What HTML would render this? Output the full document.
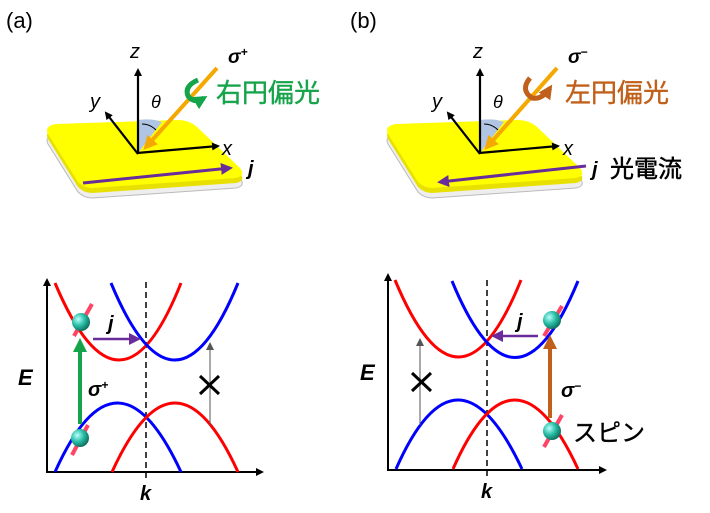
<!DOCTYPE html>
<html><head><meta charset="utf-8"><style>
body{margin:0;background:#fff}
svg text{font-family:"Liberation Sans","Noto Sans CJK JP",sans-serif}
</style></head><body>
<svg width="710" height="508" viewBox="0 0 710 508" xmlns="http://www.w3.org/2000/svg">
<defs>
<marker id="ak" markerWidth="8" markerHeight="8" refX="6" refY="4" orient="auto" markerUnits="userSpaceOnUse"><path d="M0,0 L8,4 L0,8 z" fill="#000"/></marker>
<marker id="ag" markerWidth="8" markerHeight="8" refX="6" refY="4" orient="auto" markerUnits="userSpaceOnUse"><path d="M0,0 L8,4 L0,8 z" fill="#555"/></marker>
<marker id="ap" markerWidth="12" markerHeight="12" refX="9" refY="6" orient="auto" markerUnits="userSpaceOnUse"><path d="M0,0 L12,6 L0,12 z" fill="#6a2c9a"/></marker>
<marker id="ao" markerWidth="14" markerHeight="14" refX="10" refY="7" orient="auto" markerUnits="userSpaceOnUse"><path d="M0,0 L14,7 L0,14 z" fill="#f5a800"/></marker>
<marker id="agr" markerWidth="16" markerHeight="14" refX="10" refY="7" orient="auto" markerUnits="userSpaceOnUse"><path d="M0,0 L14,7 L0,14 z" fill="#16a44a"/></marker>
<marker id="abr" markerWidth="16" markerHeight="14" refX="10" refY="7" orient="auto" markerUnits="userSpaceOnUse"><path d="M0,0 L14,7 L0,14 z" fill="#c0601a"/></marker>
<radialGradient id="ball" cx="0.35" cy="0.35" r="0.7"><stop offset="0" stop-color="#bff"/><stop offset="0.5" stop-color="#2cc0a8"/><stop offset="1" stop-color="#0a6a5a"/></radialGradient>
</defs>

<text x="6" y="28" font-size="22">(a)</text>
<text x="350" y="28" font-size="22">(b)</text>

<!-- Plate A -->
<g>
<g transform="translate(0,6)">
<path d="M48,138 Q44,130 56,128 L178,124 Q188,124 196,130 L240,172 Q246,180 236,182 L92,192 Q84,192 78,186 Z" fill="#eee" stroke="#bbb"/>
<path d="M48,133 Q44,125 56,123 L178,119 Q188,119 196,125 L240,167 Q246,175 236,177 L92,187 Q84,187 78,181 Z" fill="#e8e000"/>
<path d="M48,128 Q44,120 56,118 L178,114 Q188,114 196,120 L240,162 Q246,170 236,172 L92,182 Q84,182 78,176 Z" fill="#ffff00"/>
</g>
<path d="M138,153 L138,120 Q152,118 162,122 Z" fill="#b0c4e4"/>
<path d="M83,183 L230,168" stroke="#6a2c9a" stroke-width="3" marker-end="url(#ap)"/>
<line x1="138" y1="154" x2="138" y2="70" stroke="#000" stroke-width="2.2" marker-end="url(#ak)"/>
<line x1="138" y1="154" x2="106" y2="113" stroke="#000" stroke-width="2.2" marker-end="url(#ak)"/>
<line x1="137" y1="153" x2="218" y2="146" stroke="#000" stroke-width="2.2" marker-end="url(#ak)"/>
<path d="M142,124 Q150,124 156,130" stroke="#000" fill="none" stroke-width="1"/>
<line x1="217" y1="68" x2="146" y2="147" stroke="#f5a800" stroke-width="4" marker-end="url(#ao)"/>
<text x="130" y="58" font-size="20" font-style="italic">z</text>
<text x="90" y="108" font-size="20" font-style="italic">y</text>
<text x="222" y="155" font-size="20" font-style="italic">x</text>
<text x="151" y="108" font-size="18" font-style="italic">θ</text>
<text x="248" y="175" font-size="20" font-style="italic" font-weight="bold">j</text>
<text x="228" y="63" font-size="19" font-weight="bold" font-style="italic">σ<tspan font-size="12" dy="-7">+</tspan></text>
<path d="M198,80 Q184,86 188,96 Q194,104 204,98" stroke="#16a44a" stroke-width="5" fill="none" marker-end="url(#agr)"/>
<text x="216" y="102" font-size="26" fill="#16a44a" stroke="#16a44a" stroke-width="0.4">右円偏光</text>
</g>

<!-- Plate B -->
<g>
<g transform="translate(0,6)">
<path d="M388,138 Q384,130 396,128 L518,124 Q528,124 536,130 L580,172 Q586,180 576,182 L432,192 Q424,192 418,186 Z" fill="#eee" stroke="#bbb"/>
<path d="M388,133 Q384,125 396,123 L518,119 Q528,119 536,125 L580,167 Q586,175 576,177 L432,187 Q424,187 418,181 Z" fill="#e8e000"/>
<path d="M388,128 Q384,120 396,118 L518,114 Q528,114 536,120 L580,162 Q586,170 576,172 L432,182 Q424,182 418,176 Z" fill="#ffff00"/>
</g>
<path d="M480,153 L480,120 Q494,118 504,122 Z" fill="#b0c4e4"/>
<path d="M586,166 L440,182" stroke="#6a2c9a" stroke-width="3" marker-end="url(#ap)"/>
<line x1="480" y1="154" x2="480" y2="70" stroke="#000" stroke-width="2.2" marker-end="url(#ak)"/>
<line x1="480" y1="154" x2="448" y2="113" stroke="#000" stroke-width="2.2" marker-end="url(#ak)"/>
<line x1="479" y1="153" x2="558" y2="146" stroke="#000" stroke-width="2.2" marker-end="url(#ak)"/>
<path d="M484,124 Q492,124 498,130" stroke="#000" fill="none" stroke-width="1"/>
<line x1="557" y1="68" x2="487" y2="147" stroke="#f5a800" stroke-width="4" marker-end="url(#ao)"/>
<text x="473" y="58" font-size="20" font-style="italic">z</text>
<text x="432" y="108" font-size="20" font-style="italic">y</text>
<text x="563" y="155" font-size="20" font-style="italic">x</text>
<text x="493" y="108" font-size="18" font-style="italic">θ</text>
<text x="592" y="176" font-size="20" font-style="italic" font-weight="bold">j</text>
<text x="610" y="177" font-size="24" stroke="#000" stroke-width="0.5">光電流</text>
<text x="568" y="63" font-size="19" font-weight="bold" font-style="italic">σ<tspan font-size="12" dy="-7">−</tspan></text>
<path d="M530,78 Q520,90 532,98 Q542,100 550,88" stroke="#c0601a" stroke-width="5" fill="none" marker-end="url(#abr)"/>
<text x="565" y="102" font-size="26" fill="#c0601a" stroke="#c0601a" stroke-width="0.4">左円偏光</text>
</g>

<!-- Graph A -->
<g fill="none">
<line x1="47" y1="472" x2="47" y2="280" stroke="#000" stroke-width="2" marker-end="url(#ak)"/>
<line x1="46" y1="472" x2="262" y2="472" stroke="#000" stroke-width="2" marker-end="url(#ak)"/>
<line x1="146" y1="282" x2="146" y2="478" stroke="#000" stroke-width="1.5" stroke-dasharray="6,4"/>
<path d="M55,283 Q120,437 181,283" stroke="#f00" stroke-width="3"/>
<path d="M111,283 Q175,437 238,283" stroke="#00f" stroke-width="3"/>
<path d="M55,472 Q117,334 181,472" stroke="#00f" stroke-width="3"/>
<path d="M112,472 Q175,334 238,472" stroke="#f00" stroke-width="3"/>
<line x1="80" y1="424" x2="80" y2="342" stroke="#16a44a" stroke-width="4" marker-end="url(#agr)"/>
<line x1="93" y1="339" x2="138" y2="339" stroke="#6a2c9a" stroke-width="2.5" marker-end="url(#ap)"/>
<line x1="210" y1="425" x2="210" y2="344" stroke="#555" stroke-width="1" marker-end="url(#ag)"/>
<path d="M200,376 L219,394 M219,376 L200,394" stroke="#000" stroke-width="3"/>
<line x1="74" y1="336" x2="92" y2="304" stroke="#f46" stroke-width="4"/>
<line x1="72" y1="455" x2="88" y2="425" stroke="#f46" stroke-width="4"/>
<circle cx="81" cy="322" r="9" fill="url(#ball)"/>
<circle cx="80" cy="438" r="9" fill="url(#ball)"/>
</g>
<text x="18" y="385" font-size="22" font-weight="bold" font-style="italic">E</text>
<text x="140" y="500" font-size="20" font-weight="bold" font-style="italic">k</text>
<text x="108" y="330" font-size="20" font-weight="bold" font-style="italic">j</text>
<text x="88" y="396" font-size="20" font-weight="bold" font-style="italic">σ<tspan font-size="12" dy="-7">+</tspan></text>

<!-- Graph B -->
<g fill="none">
<line x1="388" y1="470" x2="388" y2="275" stroke="#000" stroke-width="2" marker-end="url(#ak)"/>
<line x1="387" y1="470" x2="605" y2="470" stroke="#000" stroke-width="2" marker-end="url(#ak)"/>
<line x1="487" y1="280" x2="487" y2="476" stroke="#000" stroke-width="1.5" stroke-dasharray="6,4"/>
<path d="M395,280 Q459,434 521,280" stroke="#f00" stroke-width="3"/>
<path d="M452,281 Q515,434 578,281" stroke="#00f" stroke-width="3"/>
<path d="M396,469 Q457,331 522,469" stroke="#00f" stroke-width="3"/>
<path d="M453,469 Q514,331 578,469" stroke="#f00" stroke-width="3"/>
<line x1="550" y1="418" x2="550" y2="339" stroke="#c0601a" stroke-width="4" marker-end="url(#abr)"/>
<line x1="538" y1="336" x2="494" y2="336" stroke="#6a2c9a" stroke-width="2.5" marker-end="url(#ap)"/>
<line x1="420" y1="425" x2="420" y2="340" stroke="#555" stroke-width="1" marker-end="url(#ag)"/>
<path d="M412,373 L431,391 M431,373 L412,391" stroke="#000" stroke-width="3"/>
<line x1="544" y1="336" x2="562" y2="306" stroke="#f46" stroke-width="4"/>
<line x1="544" y1="447" x2="562" y2="415" stroke="#f46" stroke-width="4"/>
<circle cx="552" cy="320" r="9" fill="url(#ball)"/>
<circle cx="552" cy="431" r="9" fill="url(#ball)"/>
</g>
<text x="360" y="380" font-size="22" font-weight="bold" font-style="italic">E</text>
<text x="481" y="498" font-size="20" font-weight="bold" font-style="italic">k</text>
<text x="517" y="328" font-size="20" font-weight="bold" font-style="italic">j</text>
<text x="561" y="397" font-size="20" font-weight="bold" font-style="italic">σ<tspan font-size="12" dy="-7">−</tspan></text>
<text x="573" y="441" font-size="24" stroke="#000" stroke-width="0.4">スピン</text>
</svg>
</body></html>
